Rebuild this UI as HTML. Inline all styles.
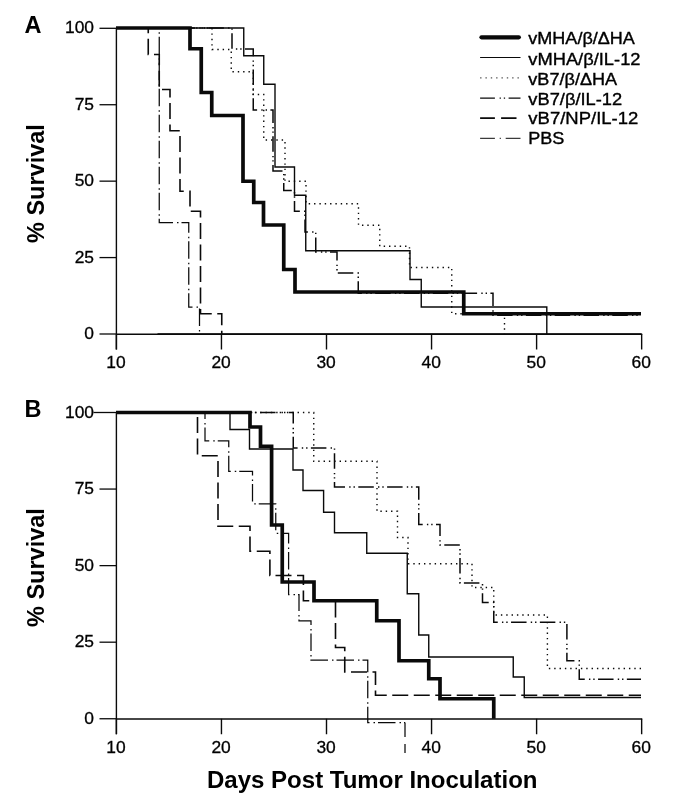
<!DOCTYPE html>
<html lang="en">
<head>
<meta charset="utf-8">
<title>Survival curves</title>
<style>
html,body{margin:0;padding:0;background:#fff;}
body{width:674px;height:808px;overflow:hidden;}
svg{display:block;}
text{font-family:"Liberation Sans",Arial,Helvetica,sans-serif;fill:#000;}
.tk{font-size:17.4px;stroke:#000;stroke-width:.3px;}
.b{font-weight:bold;font-size:23.5px;}
.lg{font-size:16.6px;stroke:#000;stroke-width:.35px;}
polyline,line{fill:none;stroke:#0a0a0a;}
</style>
</head>
<body>
<svg width="674" height="808" viewBox="0 0 674 808">
<rect x="0" y="0" width="674" height="808" fill="#ffffff"/>

<!-- Panel A -->
<line x1="116.4" y1="28.3" x2="116.4" y2="349.5" stroke-width="1.4"/>
<line x1="116" y1="334.2" x2="642.2" y2="334.2" stroke-width="1.4"/>
<line x1="99.5" y1="28.3" x2="116" y2="28.3" stroke-width="1.3"/>
<text class="tk" x="94" y="33.3" text-anchor="end">100</text>
<line x1="99.5" y1="104.725" x2="116" y2="104.725" stroke-width="1.3"/>
<text class="tk" x="94" y="109.725" text-anchor="end">75</text>
<line x1="99.5" y1="181.15" x2="116" y2="181.15" stroke-width="1.3"/>
<text class="tk" x="94" y="186.15" text-anchor="end">50</text>
<line x1="99.5" y1="257.575" x2="116" y2="257.575" stroke-width="1.3"/>
<text class="tk" x="94" y="262.575" text-anchor="end">25</text>
<line x1="99.5" y1="334" x2="116" y2="334" stroke-width="1.3"/>
<text class="tk" x="94" y="339" text-anchor="end">0</text>
<line x1="116.4" y1="334" x2="116.4" y2="349.5" stroke-width="1.4"/>
<text class="tk" x="116" y="367.7" text-anchor="middle">10</text>
<line x1="221.45" y1="334" x2="221.45" y2="349.5" stroke-width="1.4"/>
<text class="tk" x="221.05" y="367.7" text-anchor="middle">20</text>
<line x1="326.5" y1="334" x2="326.5" y2="349.5" stroke-width="1.4"/>
<text class="tk" x="326.1" y="367.7" text-anchor="middle">30</text>
<line x1="431.55" y1="334" x2="431.55" y2="349.5" stroke-width="1.4"/>
<text class="tk" x="431.15" y="367.7" text-anchor="middle">40</text>
<line x1="536.6" y1="334" x2="536.6" y2="349.5" stroke-width="1.4"/>
<text class="tk" x="536.2" y="367.7" text-anchor="middle">50</text>
<line x1="641.65" y1="334" x2="641.65" y2="349.5" stroke-width="1.4"/>
<text class="tk" x="641.25" y="367.7" text-anchor="middle">60</text>
<line x1="157.5" y1="334" x2="641.5" y2="334" stroke-width="1.7"/>
<polyline points="116,28 159.25,28 159.25,222.5 188.75,222.5 188.75,307 199.5,307 199.5,334" stroke-width="1.25" stroke-dasharray="17.5 4 1.5 3"/>
<polyline points="116,28 148.25,28 148.25,54.5 159.25,54.5 159.25,89.5 170,89.5 170,130.75 180,130.75 180,191.25 190,191.25 190,211.25 200.5,211.25 200.5,313.75 221.75,313.75 221.75,334" stroke-width="1.6" stroke-dasharray="16 5.5"/>
<polyline points="116,28 212,28 212,49.5 231.25,49.5 231.25,71.75 253.25,71.75 253.25,94.5 263.75,94.5 263.75,140 285,140 285,181.25 306,181.25 306,203.75 358.5,203.75 358.5,225.25 379.75,225.25 379.75,246.25 409.5,246.25 409.5,267.5 451.75,267.5 451.75,313.75 504.5,313.75 504.5,334" stroke-width="1.4" stroke-dasharray="1.4 3.94"/>
<polyline points="116,28 232,28 232,49 253.25,49 253.25,110 273,110 273,171 283.75,171 283.75,190.5 294.5,190.5 294.5,211.25 305,211.25 305,232 315.75,232 315.75,252 337,252 337,273 358.25,273 358.25,293.2 493,293.2 493,315.3 641,315.3" stroke-width="1.5" stroke-dasharray="15.5 4.2 1.4 2.9 1.4 3.4" stroke-dashoffset="-6"/>
<polyline points="116,28 243.75,28 243.75,55.75 263.75,55.75 263.75,84.25 275,84.25 275,167 294.5,167 294.5,195.25 305.75,195.25 305.75,250.75 410,250.75 410,279.5 421.25,279.5 421.25,307 546.8,307 546.8,334" stroke-width="1.4"/>
<polyline points="116,28 190,28 190,48.75 201.25,48.75 201.25,92.5 211.75,92.5 211.75,115.5 243,115.5 243,181.25 253.75,181.25 253.75,202.5 263.5,202.5 263.5,225 283.75,225 283.75,269.5 295,269.5 295,292 463.75,292 463.75,313.75 641,313.75" stroke-width="3.7" stroke-linejoin="miter"/>
<text class="b" x="24.5" y="33.2">A</text>
<text class="b" transform="translate(44,243) rotate(-90)">% Survival</text>
<!-- Panel B -->
<line x1="116.4" y1="412.5" x2="116.4" y2="734.25" stroke-width="1.4"/>
<line x1="116" y1="718.95" x2="642.2" y2="718.95" stroke-width="1.4"/>
<line x1="93.5" y1="412.5" x2="116" y2="412.5" stroke-width="1.3"/>
<text class="tk" x="94" y="417.5" text-anchor="end">100</text>
<line x1="99.5" y1="489.062" x2="116" y2="489.062" stroke-width="1.3"/>
<text class="tk" x="94" y="494.062" text-anchor="end">75</text>
<line x1="99.5" y1="565.625" x2="116" y2="565.625" stroke-width="1.3"/>
<text class="tk" x="94" y="570.625" text-anchor="end">50</text>
<line x1="99.5" y1="642.188" x2="116" y2="642.188" stroke-width="1.3"/>
<text class="tk" x="94" y="647.188" text-anchor="end">25</text>
<line x1="99.5" y1="718.75" x2="116" y2="718.75" stroke-width="1.3"/>
<text class="tk" x="94" y="723.75" text-anchor="end">0</text>
<line x1="116.4" y1="718.75" x2="116.4" y2="734.25" stroke-width="1.4"/>
<text class="tk" x="116" y="752.6" text-anchor="middle">10</text>
<line x1="221.45" y1="718.75" x2="221.45" y2="734.25" stroke-width="1.4"/>
<text class="tk" x="221.05" y="752.6" text-anchor="middle">20</text>
<line x1="326.5" y1="718.75" x2="326.5" y2="734.25" stroke-width="1.4"/>
<text class="tk" x="326.1" y="752.6" text-anchor="middle">30</text>
<line x1="431.55" y1="718.75" x2="431.55" y2="734.25" stroke-width="1.4"/>
<text class="tk" x="431.15" y="752.6" text-anchor="middle">40</text>
<line x1="536.6" y1="718.75" x2="536.6" y2="734.25" stroke-width="1.4"/>
<text class="tk" x="536.2" y="752.6" text-anchor="middle">50</text>
<line x1="641.65" y1="718.75" x2="641.65" y2="734.25" stroke-width="1.4"/>
<text class="tk" x="641.25" y="752.6" text-anchor="middle">60</text>
<polyline points="116,412.5 205,412.5 205,440.75 228.75,440.75 228.75,471.25 252.5,471.25 252.5,503.75 275.75,503.75 275.75,533.25 288.6,533.25 288.6,594.5 299,594.5 299,620.75 311,620.75 311,660 367.75,660 367.75,722.5 405,722.5" stroke-width="1.25" stroke-dasharray="17.5 4 1.5 3"/>
<polyline points="116,412.5 197.5,412.5 197.5,455.75 218,455.75 218,526.25 250,526.25 250,551.25 269.9,551.25 269.9,575.5 303.4,575.5 303.4,600.75 335.5,600.75 335.5,647.5 344.75,647.5 344.75,672 375.5,672 375.5,695.25 641,695.25" stroke-width="1.6" stroke-dasharray="16 5.5"/>
<polyline points="116,412.5 313.75,412.5 313.75,461.25 377,461.25 377,511.25 397.5,511.25 397.5,537.5 408,537.5 408,563.75 472,563.75 472,587.5 493.75,587.5 493.75,615 547.4,615 547.4,668.5 641,668.5" stroke-width="1.4" stroke-dasharray="1.4 3.94"/>
<polyline points="116,412.5 293.25,412.5 293.25,448 334.5,448 334.5,487 418.75,487 418.75,524.5 440,524.5 440,545 460,545 460,583 482.5,583 482.5,602.5 493.75,602.5 493.75,622.25 566.9,622.25 566.9,660.75 579.25,660.75 579.25,679.25 641,679.25" stroke-width="1.5" stroke-dasharray="15.5 4.2 1.4 2.9 1.4 3.4"/>
<polyline points="116,412.5 230,412.5 230,429.5 249.5,429.5 249.5,449 293,449 293,470 303,470 303,490.5 323.6,490.5 323.6,512.25 334.5,512.25 334.5,532.75 366.75,532.75 366.75,553.25 407.25,553.25 407.25,593.75 418.75,593.75 418.75,635 428.75,635 428.75,657 513.25,657 513.25,677 524.25,677 524.25,697.5 641,697.5" stroke-width="1.4"/>
<polyline points="116,412.5 250,412.5 250,427 260.5,427 260.5,446.25 271.6,446.25 271.6,525 282.25,525 282.25,582 314,582 314,600.75 376.75,600.75 376.75,620.75 399,620.75 399,660.75 428.75,660.75 428.75,678.75 440,678.75 440,698.75 493.75,698.75 493.75,718.75" stroke-width="3.7" stroke-linejoin="miter"/>
<line x1="405" y1="722.5" x2="405" y2="753" stroke-width="1.25" stroke-dasharray="14.5 7 9 20"/>
<text class="b" x="24.5" y="417.3">B</text>
<text class="b" transform="translate(44,627) rotate(-90)">% Survival</text>
<text class="b" x="207" y="787.6" textLength="330.5" lengthAdjust="spacingAndGlyphs">Days Post Tumor Inoculation</text>
<!-- Legend -->
<line x1="481.5" y1="37.3" x2="518.8" y2="37.3" stroke-width="4.3" stroke-linecap="round"/>
<text class="lg" x="528.3" y="43.9" textLength="106.6" lengthAdjust="spacingAndGlyphs">vMHA/β/ΔHA</text>
<line x1="480.1" y1="57.5" x2="520.5" y2="57.5" stroke-width="1.2"/>
<text class="lg" x="528.3" y="64.7" textLength="112.2" lengthAdjust="spacingAndGlyphs">vMHA/β/IL-12</text>
<line x1="480.1" y1="77.9" x2="520.5" y2="77.9" stroke-width="1.4" stroke-dasharray="1.4 3.94" style="stroke:#555"/>
<text class="lg" x="528.3" y="85.0" textLength="88.9" lengthAdjust="spacingAndGlyphs">vB7/β/ΔHA</text>
<line x1="480.1" y1="98.05" x2="520.5" y2="98.05" stroke-width="1.2" stroke-dasharray="14.8 4.7 1.3 2.9 1.3 3.5"/>
<text class="lg" x="528.3" y="104.6" textLength="93.9" lengthAdjust="spacingAndGlyphs">vB7/β/IL-12</text>
<line x1="480.1" y1="118.1" x2="520.5" y2="118.1" stroke-width="1.8" stroke-dasharray="14.8 6.2 15.4 20"/>
<text class="lg" x="528.3" y="124.4" textLength="110" lengthAdjust="spacingAndGlyphs">vB7/NP/IL-12</text>
<line x1="480.1" y1="138.3" x2="520.5" y2="138.3" stroke-width="1.0" stroke-dasharray="14.8 4.8 1.2 4.8"/>
<text class="lg" x="528.3" y="144.1" textLength="36.1" lengthAdjust="spacingAndGlyphs">PBS</text>
</svg>
</body>
</html>
